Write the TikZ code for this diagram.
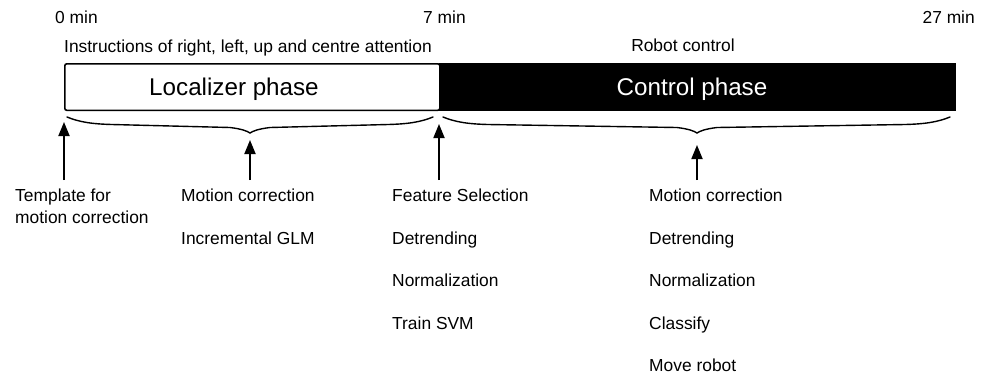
\documentclass[tikz,border=0pt]{standalone}
\usepackage{fontspec}
\setmainfont{Liberation Sans}
\usetikzlibrary{arrows.meta}
\begin{document}
\begin{tikzpicture}[x=1pt,y=-1pt,
  txt/.style={inner sep=0pt,anchor=base west,font=\fontsize{17.4}{20}\selectfont},
  phaselabel/.style={inner sep=0pt,anchor=base,font=\fontsize{24.2}{28}\selectfont},
  phasebox/.style={draw=black,line width=1.6pt,inner sep=0pt,anchor=north west,minimum height=46.5pt},
  bracepath/.style={line width=1.4pt,line cap=round},
  pointer/.style={line width=1.8pt,-{Triangle[width=11pt,length=14pt]}}]
\useasboundingbox (0,0) rectangle (989,376);

% time axis labels
\node[txt] (t0) at (55,23.5) {0 min};
\node[txt] (t7) at (423,23.5) {7 min};
\node[txt,anchor=base east] (t27) at (975,23.5) {27 min};
\node[txt] (instr) at (64,52) {Instructions of right, left, up and centre attention};
\node[txt,anchor=base] (robot) at (683,51) {Robot control};

% phase bar
\node[phasebox,fill=black,minimum width=515pt] (ctl) at (439,63) {};
\node[phasebox,fill=white,rounded corners=2pt,minimum width=375pt] (loc) at (64,63) {};
\node[phaselabel] (loctext) at (234,95) {Localizer phase};
\node[phaselabel,text=white] (ctltext) at (692,95) {Control phase};

% braces under the two phases
\draw[bracepath] (67,117) .. controls (79,122) and (92,124) .. (112,124.5)
  -- (230,127.5) .. controls (242,129) and (247,131) .. (250,133)
  coordinate (tipA)
  .. controls (253,131) and (258,129) .. (270,127.5)
  -- (388,124.5) .. controls (408,124) and (421,122) .. (433,117);
\draw[bracepath] (443,117) .. controls (455,122) and (468,124) .. (488,124.5)
  -- (677,127.5) .. controls (689,129) and (694,131) .. (697,133)
  coordinate (tipB)
  .. controls (700,131) and (705,129) .. (717,127.5)
  -- (905,124.5) .. controls (925,124) and (938,122) .. (950,117);

% pointers
\coordinate (s1) at (64,180);  \coordinate (e1) at (64,122);
\coordinate (s2) at (250,180); \coordinate (e2) at (250,140);
\coordinate (s3) at (439,180); \coordinate (e3) at (439,124);
\coordinate (s4) at (697,180); \coordinate (e4) at (697,145);
\draw[pointer] (s1) -- (e1);
\draw[pointer] (s2) -- (e2);
\draw[pointer] (s3) -- (e3);
\draw[pointer] (s4) -- (e4);

% processing steps
\node[txt] (tpl1) at (15,201) {Template for};
\node[txt] (tpl2) at (15,223) {motion correction};

\node[txt] (la1) at (181,201) {Motion correction};
\node[txt] (la2) at (181,244) {Incremental GLM};

\node[txt] (lb1) at (392,201) {Feature Selection};
\node[txt] (lb2) at (392,244) {Detrending};
\node[txt] (lb3) at (392,286) {Normalization};
\node[txt] (lb4) at (392,329) {Train SVM};

\node[txt] (c1) at (649,201) {Motion correction};
\node[txt] (c2) at (649,244) {Detrending};
\node[txt] (c3) at (649,286) {Normalization};
\node[txt] (c4) at (649,329) {Classify};
\node[txt] (c5) at (649,371) {Move robot};
\end{tikzpicture}
\end{document}
